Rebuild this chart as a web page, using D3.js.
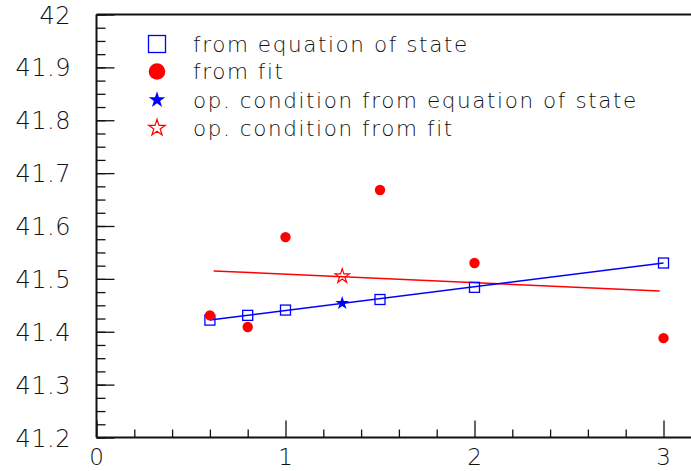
<!DOCTYPE html>
<html>
<head>
<meta charset="utf-8">
<script src="https://cdn.jsdelivr.net/npm/d3@7"></script>
<style>
  body { margin: 0; background: #fff; }
  text { font-family: "DejaVu Sans", sans-serif; fill: #111; }
</style>
</head>
<body>
<script>
// values
var xEos  = [0.6, 0.8, 1.0, 1.5, 2.0, 3.0]
var yEos  = [41.422, 41.431, 41.441, 41.461, 41.484, 41.530]
var xFit  = [0.6, 0.8, 1.0, 1.5, 2.0, 3.0]
var yFit  = [41.431, 41.409, 41.579, 41.668, 41.530, 41.388]
// straight lines (end points)
var eosLineX = [0.6, 3.0]
var eosLineY = [41.422, 41.530]
var fitLineX = [0.62, 2.98]
var fitLineY = [41.515, 41.477]
// operating conditions
var opEos = [1.3, 41.454]
var opFit = [1.3, 41.505]
var xTicks = [0, 1, 2, 3]
var yTicks = [41.2, 41.3, 41.4, 41.5, 41.6, 41.7, 41.8, 41.9, 42]
var legendLabels = ["from equation of state", "from fit",
                    "op. condition from equation of state", "op. condition from fit"]

var width = 691,
    height = 471
var plotLeft = 96.5, plotTop = 14.5, plotBottom = 437.5

var svg = d3.select("body").append("svg")
  .attr("width", width)
  .attr("height", height)

var x = d3.scaleLinear().domain([0, 3]).range([plotLeft, 663.5])
var y = d3.scaleLinear().domain([41.2, 42]).range([plotBottom, plotTop])

// minor ticks
var xMinor = d3.range(0, 3.15, 0.2).filter(function(v){ return Math.abs(v - Math.round(v)) > 1e-6 })
var yMinor = d3.range(41.2, 42.0001, 0.025)

var gx = svg.append("g").attr("transform", "translate(0," + plotBottom + ")")
gx.append("g").call(d3.axisTop(x).tickValues(xMinor).tickSize(8).tickFormat(""))
gx.append("g").call(d3.axisTop(x).tickValues(xTicks).tickSize(17).tickFormat(""))
gx.selectAll(".domain").remove()
gx.selectAll("line").attr("stroke", "#111").attr("stroke-width", 1.3)
svg.selectAll(".xlab").data(xTicks).enter().append("text")
  .attr("x", function(d){ return x(d) })
  .attr("y", 465)
  .attr("text-anchor", "middle")
  .style("font-size", "23px")
  .style("font-weight", 300)
  .text(function(d){ return d })

var gy = svg.append("g").attr("transform", "translate(" + plotLeft + ",0)")
gy.append("g").call(d3.axisRight(y).tickValues(yMinor).tickSize(9).tickFormat(""))
gy.append("g").call(d3.axisRight(y).tickValues(yTicks).tickSize(18).tickFormat(""))
gy.selectAll(".domain").remove()
gy.selectAll("line").attr("stroke", "#111").attr("stroke-width", 1.3)
svg.selectAll(".ylab").data(yTicks).enter().append("text")
  .attr("x", 71)
  .attr("y", function(d){ return y(d) + 9 })
  .attr("text-anchor", "end")
  .style("font-size", "24px")
  .style("font-weight", 300)
  .style("letter-spacing", "0.5px")
  .text(function(d){ return d3.format("")(d) })

// frame lines
svg.append("line").attr("x1", plotLeft).attr("x2", width).attr("y1", plotTop).attr("y2", plotTop)
  .attr("stroke", "#111").attr("stroke-width", 2)
svg.append("line").attr("x1", plotLeft).attr("x2", width).attr("y1", plotBottom).attr("y2", plotBottom)
  .attr("stroke", "#111").attr("stroke-width", 2)
svg.append("line").attr("x1", plotLeft).attr("x2", plotLeft).attr("y1", plotTop).attr("y2", plotBottom)
  .attr("stroke", "#111").attr("stroke-width", 2)

var line = d3.line().x(function(d){ return x(d[0]) }).y(function(d){ return y(d[1]) })
svg.append("path").attr("d", line(d3.zip(fitLineX, fitLineY)))
  .attr("fill", "none").attr("stroke", "#ff0000").attr("stroke-width", 1.5)
svg.append("path").attr("d", line(d3.zip(eosLineX, eosLineY)))
  .attr("fill", "none").attr("stroke", "#0000ff").attr("stroke-width", 1.5)

svg.selectAll(".sq").data(d3.zip(xEos, yEos)).enter().append("rect")
  .attr("x", function(d){ return x(d[0]) - 5 })
  .attr("y", function(d){ return y(d[1]) - 5 })
  .attr("width", 10).attr("height", 10)
  .attr("fill", "none").attr("stroke", "#0000ff").attr("stroke-width", 1.3)

svg.selectAll(".dot").data(d3.zip(xFit, yFit)).enter().append("circle")
  .attr("cx", function(d){ return x(d[0]) })
  .attr("cy", function(d){ return y(d[1]) })
  .attr("r", 5.2)
  .attr("fill", "#ff0000")

var star = function(size) { return d3.symbol().type(d3.symbolStar).size(size)() }
svg.append("path").attr("d", star(60))
  .attr("transform", "translate(" + x(opEos[0]) + "," + y(opEos[1]) + ")")
  .attr("fill", "#0000ff")
svg.append("path").attr("d", star(64))
  .attr("transform", "translate(" + x(opFit[0]) + "," + y(opFit[1]) + ")")
  .attr("fill", "none").attr("stroke", "#ff0000").attr("stroke-width", 1.2)

// legend
var lx = 157, ly = [44, 71.5, 100, 128]
var leg = svg.append("g")
leg.append("rect").attr("x", lx - 8.5).attr("y", ly[0] - 8.5).attr("width", 17).attr("height", 17)
  .attr("fill", "none").attr("stroke", "#0000ff").attr("stroke-width", 1.3)
leg.append("circle").attr("cx", lx).attr("cy", ly[1]).attr("r", 8.3).attr("fill", "#ff0000")
leg.append("path").attr("d", star(85)).attr("transform", "translate(" + lx + "," + ly[2] + ")")
  .attr("fill", "#0000ff")
leg.append("path").attr("d", star(85)).attr("transform", "translate(" + lx + "," + ly[3] + ")")
  .attr("fill", "none").attr("stroke", "#ff0000").attr("stroke-width", 1.2)
leg.selectAll("text").data(legendLabels).enter().append("text")
  .attr("x", 193)
  .attr("y", function(d, i){ return ly[i] + 7.5 })
  .style("font-size", "21.5px")
  .style("font-weight", 300)
  .style("letter-spacing", "1.6px")
  .text(function(d){ return d })
</script>
</body>
</html>
